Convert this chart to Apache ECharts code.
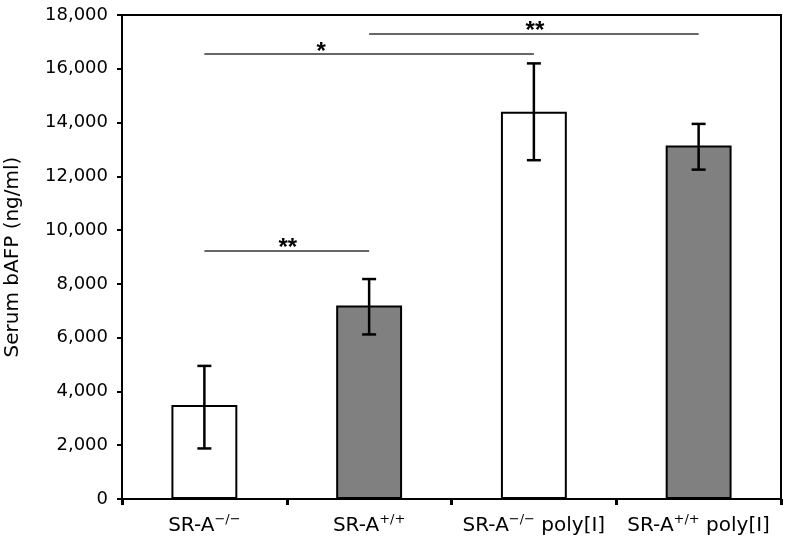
<!DOCTYPE html>
<html><head><meta charset="utf-8">
<script src="https://cdn.jsdelivr.net/npm/echarts@6/dist/echarts.min.js"></script>
<style>html,body{margin:0;padding:0;background:#fff}#c{width:786px;height:542px}</style>
</head><body><div id="c"></div>
<script>
// ---- data ----
const categories = ['SR-A−/−', 'SR-A+/+', 'SR-A−/− poly[I]', 'SR-A+/+ poly[I]'];
const labelBase = ['SR-A', 'SR-A', 'SR-A', 'SR-A'];
const labelSup = ['−/−', '+/+', '−/−', '+/+'];
const labelSuffix = ['', '', ' poly[I]', ' poly[I]'];
const means = [3500, 7200, 14400, 13150];
const errLow = [1880, 6120, 12600, 12250];
const errHigh = [4950, 8180, 16200, 13950];
const barFills = ['#ffffff', '#808080', '#ffffff', '#808080'];
const yMin = 0, yMax = 18000, yStep = 2000;
const yAxisTitle = 'Serum bAFP (ng/ml)';
const sigFrom = [0, 0, 1];
const sigTo = [1, 2, 3];
const sigLevel = [9250, 16550, 17300];
const sigText = ['**', '*', '**'];
const sigShift = [1, -48, 1];

const FONT = 'DejaVu Sans';
const chart = echarts.init(document.getElementById('c'), null, {renderer: 'canvas'});

const option = {
  animation: false,
  backgroundColor: '#ffffff',
  grid: {left: 122, right: 5, top: 15, bottom: 43, containLabel: false, outerBoundsMode: 'none',
         show: true, borderColor: '#000', borderWidth: 2, backgroundColor: 'transparent'},
  xAxis: {
    type: 'category',
    data: categories,
    axisLine: {lineStyle: {color: '#000', width: 2}},
    axisTick: {show: true, inside: false, length: 6, lineStyle: {color: '#000', width: 3}},
    axisLabel: {
      margin: 13,
      interval: 0,
      color: '#000',
      formatter: function (v, i) {
        let s = '{a|' + labelBase[i] + '}{s|' + labelSup[i] + '}';
        if (labelSuffix[i]) s += '{a|' + labelSuffix[i] + '}';
        return s;
      },
      rich: {
        a: {fontFamily: FONT, fontSize: 20, color: '#000', lineHeight: 24, verticalAlign: 'bottom'},
        s: {fontFamily: FONT, fontSize: 13, color: '#000', lineHeight: 24, verticalAlign: 'bottom', padding: [0, 0, 10, 0]}
      }
    },
    splitLine: {show: false}
  },
  yAxis: {
    type: 'value',
    min: yMin, max: yMax, interval: yStep,
    name: yAxisTitle,
    nameLocation: 'middle',
    nameGap: 99,
    nameTextStyle: {fontFamily: FONT, fontSize: 20, color: '#000'},
    axisLine: {show: true, lineStyle: {color: '#000', width: 2}},
    axisTick: {show: true, length: 5, lineStyle: {color: '#000', width: 2}},
    axisLabel: {
      margin: 14, color: '#000', fontFamily: FONT, fontSize: 18,
      formatter: function (v) { return v.toLocaleString('en-US'); }
    },
    splitLine: {show: false}
  },
  series: [
    {
      type: 'bar',
      barWidth: '40%',
      data: means.map((v, i) => ({value: v, itemStyle: {color: barFills[i]}})),
      itemStyle: {borderColor: '#000', borderWidth: 2},
      z: 2,
      markLine: {
        symbol: 'none',
        silent: true,
        animation: false,
        lineStyle: {color: '#333', width: 1.5, type: 'solid'},
        label: {show: true, position: 'middle', fontFamily: 'Liberation Sans', fontWeight: 'bold',
                fontSize: 24, color: '#000', distance: -10},
        data: sigLevel.map((lvl, k) => [
          {coord: [sigFrom[k], lvl], label: {formatter: sigText[k], offset: [sigShift[k], 0]}},
          {coord: [sigTo[k], lvl]}
        ])
      }
    },
    {
      type: 'custom',
      z: 5,
      data: means.map((v, i) => [i, errLow[i], errHigh[i]]),
      encode: {x: 0, y: [1, 2]},
      renderItem: function (params, api) {
        const x = api.value(0);
        const lo = api.coord([x, api.value(1)]);
        const hi = api.coord([x, api.value(2)]);
        const hw = 7;
        const st = {stroke: '#000', lineWidth: 2.5, fill: null};
        return {
          type: 'group',
          children: [
            {type: 'line', shape: {x1: lo[0], y1: lo[1], x2: hi[0], y2: hi[1]}, style: st},
            {type: 'line', shape: {x1: hi[0] - hw, y1: hi[1], x2: hi[0] + hw, y2: hi[1]}, style: st},
            {type: 'line', shape: {x1: lo[0] - hw, y1: lo[1], x2: lo[0] + hw, y2: lo[1]}, style: st}
          ]
        };
      }
    }
  ]
};
chart.setOption(option);
</script>
</body></html>
